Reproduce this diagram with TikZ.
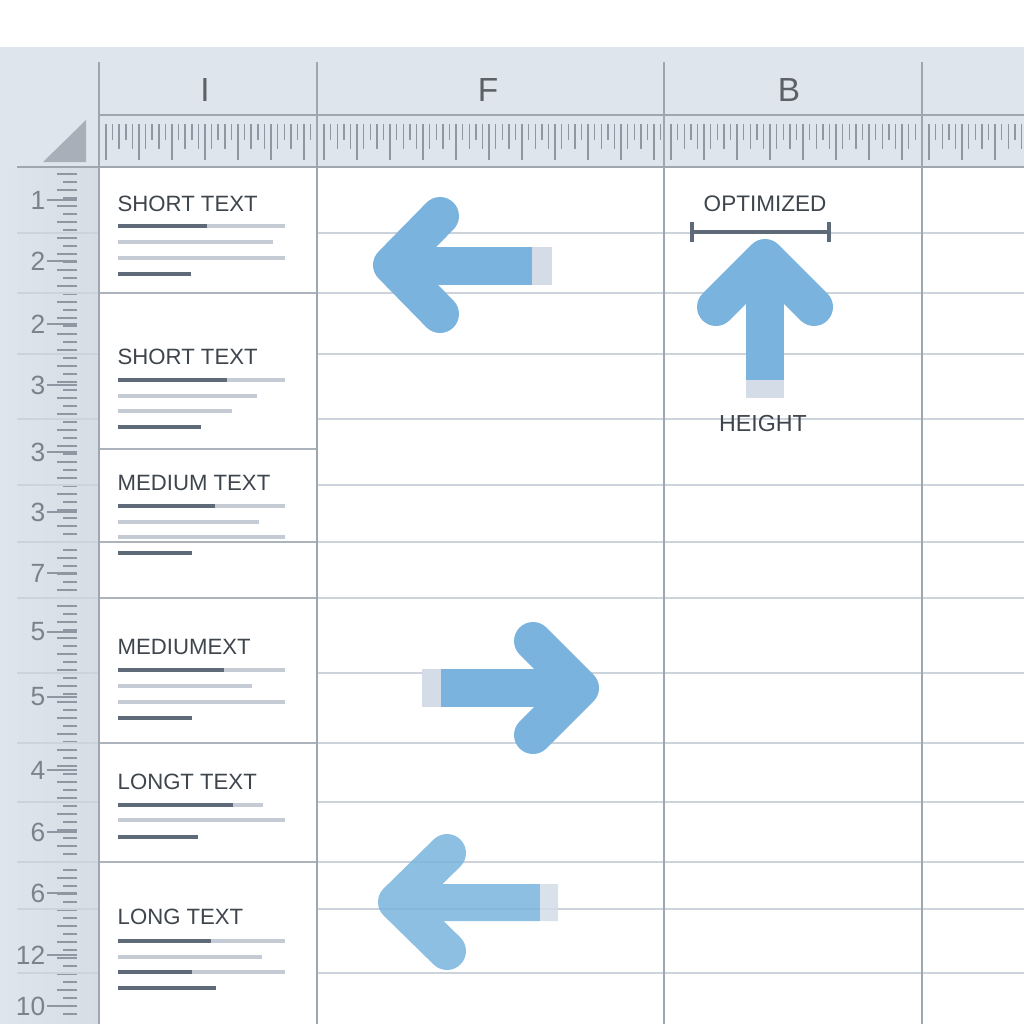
\documentclass[tikz,border=0pt]{standalone}
\usepackage{fontspec}
\setmainfont{Liberation Sans}
\usetikzlibrary{positioning}
\definecolor{panelbg}{HTML}{DFE5EC}
\definecolor{rulerbg}{HTML}{D6DDE5}
\definecolor{gridline}{HTML}{CDD3DA}
\definecolor{colline}{HTML}{9EA6B0}
\definecolor{tickgray}{HTML}{8E97A2}
\definecolor{textgray}{HTML}{3F454C}
\definecolor{numgray}{HTML}{7A838D}
\definecolor{bardark}{HTML}{5E6A77}
\definecolor{barlight}{HTML}{C4CBD4}
\definecolor{arrowblue}{HTML}{7AB4DE}
\definecolor{arrowpale}{HTML}{D3DCE7}
\tikzset{
  celltext/.style={anchor=west,inner sep=0pt,text=textgray,font=\fontsize{6.3}{7}\selectfont},
  colhead/.style={inner sep=0pt,text=textgray!85,font=\fontsize{9.5}{11}\selectfont},
  rownum/.style={anchor=east,inner sep=0pt,text=numgray,font=\fontsize{7.5}{9}\selectfont},
  darkbar/.style={draw=bardark,line width=1.1pt},
  lightbar/.style={draw=barlight,line width=1pt},
  gridln/.style={draw=gridline,line width=0.45pt},
  colln/.style={draw=colline,line width=0.55pt},
  boxln/.style={draw=colline!85,line width=0.5pt},
  ticks/.style={draw=tickgray,line width=0.4pt},
  dimln/.style={draw=bardark,line width=0.9pt},
  head/.style={draw=arrowblue,line width=10.8pt,line cap=round,line join=round},
  shaft/.style={fill=arrowblue},
  tail/.style={fill=arrowpale},
}
\begin{document}
\begin{tikzpicture}[x=0.01cm,y=-0.01cm]
  \useasboundingbox (0,0) rectangle (1024,1024);
  % panel and cells
  \fill[white] (0,0) rectangle (1024,47);
  \fill[panelbg] (0,47) rectangle (1024,1024);
  \fill[left color=panelbg,right color=rulerbg] (0,168) rectangle (99,1024);
  \fill[white] (99,168) rectangle (1024,1024);
  \fill[colline!90] (43,162) -- (86,120) -- (86,162) -- cycle;

  % top ruler
  \foreach \xa/\n in {99/31,317/51,664/37,922/16}
    \foreach \k in {0,...,\n}{
      \pgfmathsetmacro\tl{ifthenelse(mod(\k,5)==0,160,ifthenelse(mod(\k,2)==0,149,140))}
      \draw[ticks] (\xa+7+\k*6.6,124) -- (\xa+7+\k*6.6,\tl);
    }
  % left ruler
  \foreach \k in {0,...,105}{
    \pgfmathsetmacro\tx{ifthenelse(mod(\k,2)==0,57,63)}
    \draw[ticks] (\tx,174+\k*8) -- (77,174+\k*8);
  }

  % grid lines
  \foreach \y in {233,293,354,419,485,542,598,673,743,802,862,909,973}{
    \draw[gridln] (17,\y) -- (99,\y);
    \draw[gridln] (317,\y) -- (1024,\y);
  }
  \foreach \y in {293,449,542,598,743,862}
    \draw[boxln] (99,\y) -- (317,\y);
  \draw[colln] (99,115) -- (1024,115);
  \draw[colln] (17,167) -- (1024,167);
  \foreach \x in {99,317,664,922}
    \draw[colln] (\x,62) -- (\x,1024);

  % column heads
  \node[colhead] (hI) at (205,90) {I};
  \node[colhead] (hF) at (488,90) {F};
  \node[colhead] (hB) at (789,90) {B};

  % row numbers
  \foreach \n/\y [count=\i] in {1/200,2/261,2/324,3/385,3/452,3/512,7/573,5/632,5/697,4/770,6/832,6/893,12/955,10/1006}{
    \node[rownum] (r\i) at (46,\y) {\n};
    \draw[ticks] (r\i.east) ++(1,0) -- (77,\y);
  }

  % cell texts
  \node[celltext] (t1) at (117,204) {SHORT TEXT};
  \node[celltext] (t2) at (117,357) {SHORT TEXT};
  \node[celltext] (t3) at (117,483) {MEDIUM TEXT};
  \node[celltext] (t4) at (117,647) {MEDIUMEXT};
  \node[celltext] (t5) at (117,782) {LONGT TEXT};
  \node[celltext] (t6) at (117,917) {LONG TEXT};
  \foreach \y/\e in {226/285,242/273,258/285,380/285,396/257,411/232,506/285,522/259,537/285,
                     670/285,686/252,702/285,805/263,820/285,941/285,957/262,972/285}
    \draw[lightbar] (118,\y) -- (\e,\y);
  \foreach \y/\e in {226/207,274/191,380/227,427/201,506/215,553/192,670/224,718/192,
                     805/233,837/198,941/211,972/192,988/216}
    \draw[darkbar] (118,\y) -- (\e,\y);

  % arrows
  \fill[shaft] (392,247) rectangle (532,285);
  \fill[tail] (532,247) rectangle (552,285);
  \draw[head] (440,216) -- (392,265) -- (440,314);

  \fill[shaft] (441,669) rectangle (580,707);
  \fill[tail] (422,669) rectangle (441,707);
  \draw[head] (533,641) -- (580,688) -- (533,735);

  \begin{scope}[opacity=.85,transparency group]
    \fill[shaft] (397,884) rectangle (540,921);
    \fill[tail] (540,884) rectangle (558,921);
    \draw[head] (447,853) -- (397,902) -- (447,951);
  \end{scope}

  \fill[shaft] (746,258) rectangle (784,380);
  \fill[tail] (746,380) rectangle (784,398);
  \draw[head] (716,307) -- (765,258) -- (814,307);

  % optimized height
  \node[celltext,anchor=center,font=\fontsize{6.4}{7}\selectfont] (opt) at (765,204) {OPTIMIZED};
  \node[celltext,anchor=center,font=\fontsize{6.6}{7}\selectfont] (hgt) at (763,424) {HEIGHT};
  \coordinate (dimL) at (692,232);
  \coordinate (dimR) at (829,232);
  \draw[dimln] (dimL) -- (dimR);
  \draw[dimln,line width=1.2pt] (dimL) ++(0,-10) -- ++(0,20);
  \draw[dimln,line width=1.2pt] (dimR) ++(0,-10) -- ++(0,20);
\end{tikzpicture}
\end{document}
